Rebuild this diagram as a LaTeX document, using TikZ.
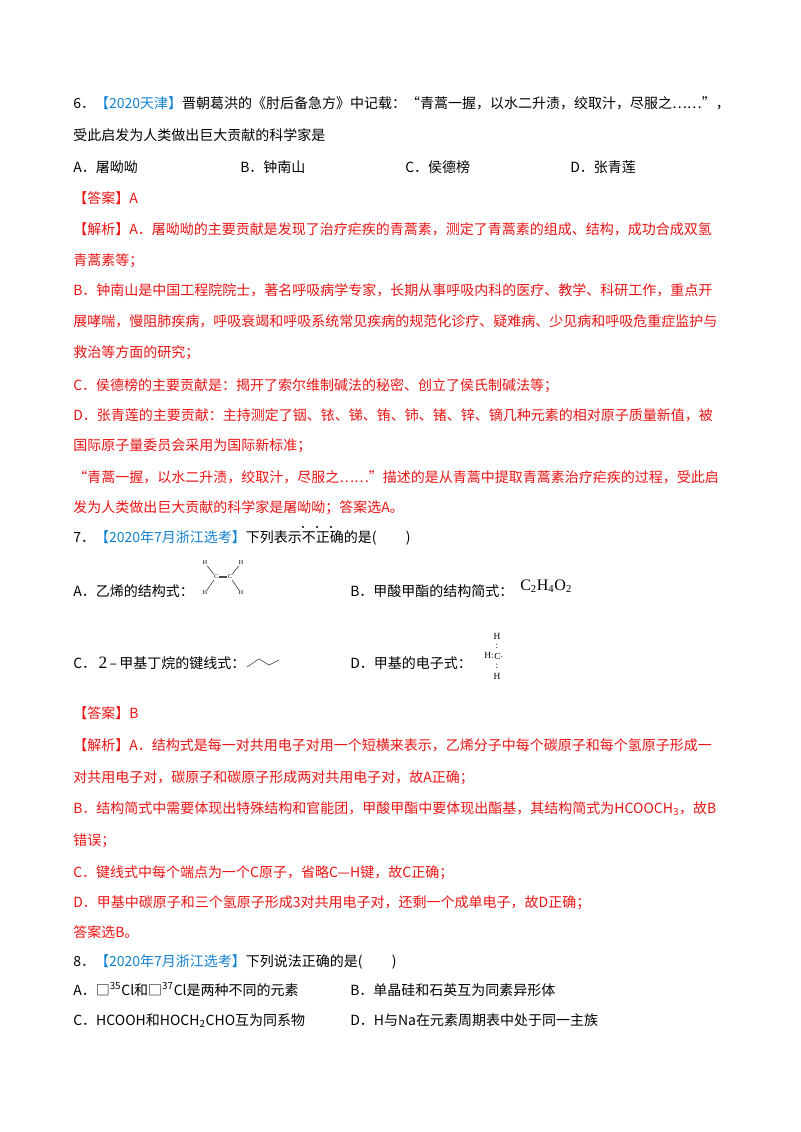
\documentclass[tikz,border=0pt]{standalone}
\usepackage{fontspec}
\setmainfont{Noto Sans CJK SC}
\newfontfamily\lat{Liberation Serif}
\XeTeXlinebreaklocale "zh"
\XeTeXlinebreakskip=0pt plus 3pt
\definecolor{ansred}{RGB}{235,20,20}
\definecolor{srcblue}{RGB}{20,130,210}
\newcommand{\fl}[1]{\hbox to 495pt{#1}}
\begin{document}
\begin{tikzpicture}[x=0.75pt,y=-0.75pt,
  ln/.style={anchor=base west,inner sep=0pt,font=\fontsize{10.5}{12}\selectfont},
  rd/.style={ln,text=ansred},
  sm/.style={inner sep=0.5pt,font=\lat\fontsize{4.5}{4.5}\selectfont},
  el/.style={inner sep=0pt,font=\lat\fontsize{7}{7}\selectfont},
  bond/.style={black!70,line width=0.5pt}]
\useasboundingbox[fill=white] (0,0) rectangle (800,1132);
% Q6
\node[ln] (q6a) at (73,108) {\fl{6．\textcolor{srcblue}{【2020天津】}晋朝葛洪的《肘后备急方》中记载：“青蒿一握，以水二升渍，绞取汁，尽服之……”，}};
\node[ln] (q6b) at (73,140) {受此启发为人类做出巨大贡献的科学家是};
\node[ln] (o6a) at (73,172) {A．屠呦呦};
\node[ln] (o6b) at (240,172) {B．钟南山};
\node[ln] (o6c) at (405,172) {C．侯德榜};
\node[ln] (o6d) at (570,172) {D．张青莲};
\node[rd] (a6) at (73,203) {【答案】A};
\node[rd] (e1) at (73,234) {\fl{【解析】A．屠呦呦的主要贡献是发现了治疗疟疾的青蒿素，测定了青蒿素的组成、结构，成功合成双氢}};
\node[rd] (e2) at (73,265) {青蒿素等；};
\node[rd] (e3) at (73,295) {\fl{B．钟南山是中国工程院院士，著名呼吸病学专家，长期从事呼吸内科的医疗、教学、科研工作，重点开}};
\node[rd] (e4) at (73,326) {\fl{展哮喘，慢阻肺疾病，呼吸衰竭和呼吸系统常见疾病的规范化诊疗、疑难病、少见病和呼吸危重症监护与}};
\node[rd] (e5) at (73,357) {救治等方面的研究；};
\node[rd] (e6) at (73,390) {C．侯德榜的主要贡献是：揭开了索尔维制碱法的秘密、创立了侯氏制碱法等；};
\node[rd] (e7) at (73,420) {\fl{D．张青莲的主要贡献：主持测定了铟、铱、锑、铕、铈、锗、锌、镝几种元素的相对原子质量新值，被}};
\node[rd] (e8) at (73,450) {国际原子量委员会采用为国际新标准；};
\node[rd] (e9) at (73,482) {\fl{“青蒿一握，以水二升渍，绞取汁，尽服之……”描述的是从青蒿中提取青蒿素治疗疟疾的过程，受此启}};
\node[rd] (e10) at (73,512) {发为人类做出巨大贡献的科学家是屠呦呦；答案选A。};
% Q7
\node[ln] (q7) at (73,542) {7．\textcolor{srcblue}{【2020年7月浙江选考】}下列表示不正确的是(\hspace{22pt})};
\foreach \x in {303,317,331} \fill (\x,527) circle (1.1);
\node[ln] (o7a) at (73,596) {A．乙烯的结构式：};
\node[sm] (c1) at (216,577) {C};
\node[sm] (c2) at (230,577) {C};
\node[sm] (h1) at (205,563) {H};
\node[sm] (h2) at (241,563) {H};
\node[sm] (h3) at (205,593) {H};
\node[sm] (h4) at (241,593) {H};
\draw[bond] (c1) -- (h1) (c1) -- (h3) (c2) -- (h2) (c2) -- (h4);
\draw[bond] ([yshift=-0.6pt]c1.east) -- ([yshift=-0.6pt]c2.west);
\draw[bond] ([yshift=0.6pt]c1.east) -- ([yshift=0.6pt]c2.west);
\node[ln] (o7b) at (350,596) {B．甲酸甲酯的结构简式：};
\node[ln,font=\lat\fontsize{12}{12}\selectfont] (o7bf) at (520,590) {C\textsubscript{2}H\textsubscript{4}O\textsubscript{2}};
\node[ln] (o7c) at (73,668) {C．\,{\lat\fontsize{13}{13}\selectfont 2}\,–\,甲基丁烷的键线式：};
\coordinate (z1) at (247,667);
\coordinate (z2) at (259,659);
\coordinate (z3) at (269,665);
\coordinate (z4) at (279,660);
\draw[bond] (z1) -- (z2) -- (z3) -- (z4);
\node[ln] (o7d) at (350,668) {D．甲基的电子式：};
\node[el,anchor=east] (mh) at (494,656) {H:};
\node[el,anchor=west] (mc) at (494,656) {C$\cdot$};
\node[el] (mt) at (497,636) {H};
\node[el] (mb) at (497,676) {H};
\node[el] (dt) at (497,646) {:};
\node[el] (db) at (497,666) {:};
\node[rd] (a7) at (73,718) {【答案】B};
\node[rd] (f1) at (73,750) {\fl{【解析】A．结构式是每一对共用电子对用一个短横来表示，乙烯分子中每个碳原子和每个氢原子形成一}};
\node[rd] (f2) at (73,782) {对共用电子对，碳原子和碳原子形成两对共用电子对，故A正确；};
\node[rd] (f3) at (73,813) {\fl{B．结构简式中需要体现出特殊结构和官能团，甲酸甲酯中要体现出酯基，其结构简式为HCOOCH\textsubscript{3}，故B}};
\node[rd] (f4) at (73,845) {错误；};
\node[rd] (f5) at (73,877) {C．键线式中每个端点为一个C原子，省略C—H键，故C正确；};
\node[rd] (f6) at (73,907) {D．甲基中碳原子和三个氢原子形成3对共用电子对，还剩一个成单电子，故D正确；};
\node[rd] (f7) at (73,937) {答案选B。};
% Q8
\node[ln] (q8) at (73,966) {8．\textcolor{srcblue}{【2020年7月浙江选考】}下列说法正确的是(\hspace{22pt})};
\node[ln] (o8a) at (73,995) {A．□\textsuperscript{35}Cl和□\textsuperscript{37}Cl是两种不同的元素};
\node[ln] (o8b) at (350,995) {B．单晶硅和石英互为同素异形体};
\node[ln] (o8c) at (73,1025) {C．HCOOH和HOCH\textsubscript{2}CHO互为同系物};
\node[ln] (o8d) at (350,1025) {D．H与Na在元素周期表中处于同一主族};
\end{tikzpicture}
\end{document}
